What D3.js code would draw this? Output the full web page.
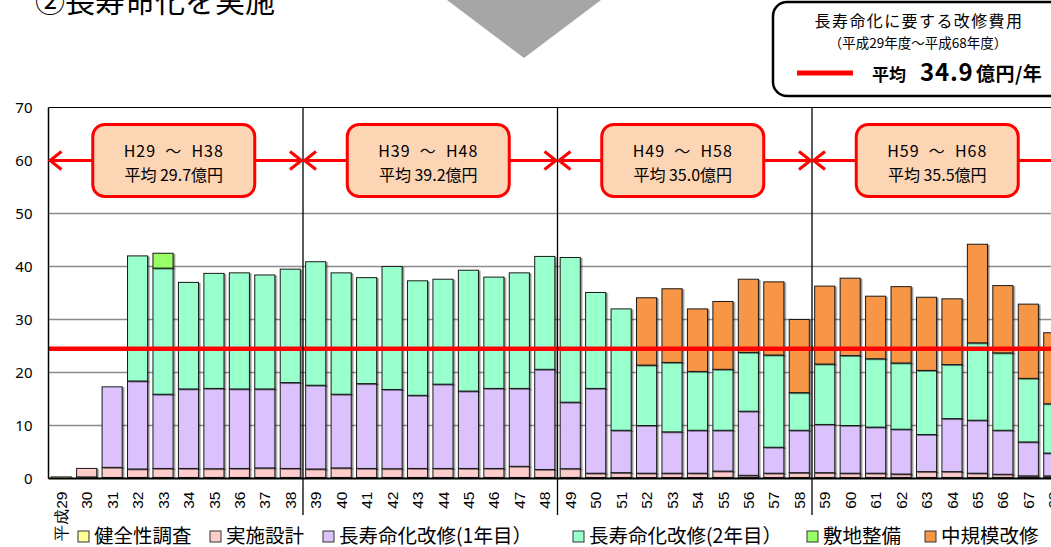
<!DOCTYPE html>
<html><head><meta charset="utf-8">
<script src="https://cdn.jsdelivr.net/npm/d3@7"></script>
<style>
html,body{margin:0;padding:0;background:#fff;overflow:hidden}
svg{display:block;font-family:"Noto Sans CJK JP","Noto Sans",sans-serif}
</style></head><body>
<svg id="c" width="1051" height="547"></svg>
<script>
// ---- data ----
const years = d3.range(29, 69);
const yearLabels = years.map(y => y === 29 ? "平成29" : String(y));
const seriesNames = ["健全性調査", "実施設計", "長寿命化改修(1年目）", "長寿命化改修(2年目）", "敷地整備", "中規模改修"];
const seriesColors = ["#ffff99", "#ffcccc", "#dcc2fd", "#99ffcc", "#99ff66", "#f79646"];
const kenzen = [0.3,0.3,0.2,0.2,0.2,0.2,0.2,0.2,0.2,0.2, 0.2,0.2,0.2,0.2,0.2,0.2,0.2,0.2,0.2,0.2, 0.2,0.2,0.2,0.2,0.2,0.2,0.2,0.2,0.2,0.2, 0.2,0.2,0.2,0.2,0.2,0.2,0.2,0.2,0.2,0.2];
const jisshi = [0,1.6,1.9,1.6,1.7,1.7,1.65,1.7,1.8,1.7, 1.6,1.8,1.7,1.65,1.7,1.7,1.7,1.7,2.1,1.5, 1.65,0.8,0.9,0.8,0.8,0.8,1.2,0.4,0.8,0.9, 0.9,0.8,0.8,0.65,1.1,1.1,0.8,0.6,0.3,0.3];
const kaishu1 = [0,0,15.2,16.6,14.0,15.0,15.15,15.0,14.9,16.2, 15.8,13.9,16.0,14.95,13.8,15.9,14.6,15.1,14.7,18.9, 12.55,16.0,8.0,9.0,7.8,8.1,7.7,12.1,4.9,8.0, 9.1,9.0,8.7,8.45,7.0,10.0,10.0,8.3,6.4,4.3];
const kaishu2 = [0,0,0,23.6,23.8,20.1,21.7,21.9,21.5,21.4, 23.3,22.9,20.0,23.2,21.6,19.8,22.8,21.0,21.8,21.3, 27.3,18.1,22.9,11.4,13.1,11.1,11.5,11.1,17.4,7.1, 11.4,13.2,12.9,12.5,12.1,10.2,14.6,14.6,12.0,9.3];
const shikichi = [0,0,0,0,2.8,0,0,0,0,0, 0,0,0,0,0,0,0,0,0,0, 0,0,0,0,0,0,0,0,0,0, 0,0,0,0,0,0,0,0,0,0];
const chukibo = [0,0,0,0,0,0,0,0,0,0, 0,0,0,0,0,0,0,0,0,0, 0,0,0,12.7,13.9,11.8,12.8,13.8,13.8,13.8, 14.7,14.6,11.8,14.4,13.8,12.4,18.6,12.7,14.0,13.4];
const yTicks = [0,10,20,30,40,50,60,70];
const averageLine = 24.5;
const periods = [
  {from: 29, to: 38, line1: "H29 ～ H38", line2: "平均 29.7億円"},
  {from: 39, to: 48, line1: "H39 ～ H48", line2: "平均 39.2億円"},
  {from: 49, to: 58, line1: "H49 ～ H58", line2: "平均 35.0億円"},
  {from: 59, to: 68, line1: "H59 ～ H68", line2: "平均 35.5億円"}
];
const periodMarkerValue = 60;
const titleText = "②長寿命化を実施";
const legendBoxLines = ["長寿命化に要する改修費用", "（平成29年度～平成68年度）"];

// ---- build ----
const svg = d3.select("#c");
const W = 1051, H = 547;
const x0 = 48.5, step = 25.45;
const x = d3.scaleBand().domain(yearLabels).range([x0, x0 + step * years.length]).paddingInner(0.21).paddingOuter(0.105);
const y = d3.scaleLinear().domain([0, 70]).range([478.5, 107.5]);

const defs = svg.append("defs");
const f = defs.append("filter").attr("id", "sh").attr("x", "-20%").attr("y", "-20%").attr("width", "140%").attr("height", "140%");
f.append("feDropShadow").attr("dx", 1.5).attr("dy", 1).attr("stdDeviation", 0.6).attr("flood-color", "#000").attr("flood-opacity", 0.45);

// title (cut off at top, as in the reference)
svg.append("text").attr("x", 35).attr("y", 12).attr("font-size", 30).attr("fill", "#000").text(titleText);

// gray down arrow
svg.append("path").attr("d", "M447,0 L601,0 L524,58 Z").attr("fill", "#a6a6a6");

// legend box top-right
const lg = svg.append("g");
lg.append("rect").attr("x", 773).attr("y", 2).attr("width", 320).attr("height", 94).attr("rx", 14)
  .attr("fill", "#fff").attr("stroke", "#000").attr("stroke-width", 2.5);
lg.append("text").attr("x", 919).attr("y", 27).attr("text-anchor", "middle").attr("font-size", 16).attr("letter-spacing", 1.4).text(legendBoxLines[0]);
lg.append("text").attr("x", 918).attr("y", 48).attr("text-anchor", "middle").attr("font-size", 13.5).text(legendBoxLines[1]);
lg.append("line").attr("x1", 797).attr("x2", 853).attr("y1", 73).attr("y2", 73).attr("stroke", "#ff0000").attr("stroke-width", 5);
const lt = lg.append("text").attr("y", 81).attr("font-weight", "bold");
lt.append("tspan").attr("x", 872).attr("font-size", 17).text("平均");
lt.append("tspan").attr("x", 920).attr("font-size", 24).attr("letter-spacing", 0.8).text(d3.format(".1f")(34.9));
lt.append("tspan").attr("x", 976).attr("font-size", 19).attr("letter-spacing", 0.5).text("億円/年");

// grid
const plot = svg.append("g");
plot.selectAll("line.grid").data(yTicks.filter(t => t > 0 && t < 70)).join("line")
  .attr("x1", x0).attr("x2", W).attr("y1", d => y(d)).attr("y2", d => y(d))
  .attr("stroke", "#8c8c8c").attr("stroke-width", 1.5);
plot.append("line").attr("x1", x0).attr("x2", W).attr("y1", y(70)).attr("y2", y(70)).attr("stroke", "#000").attr("stroke-width", 1.2);

// y axis labels
const ya = svg.append("g").attr("transform", `translate(${x0},0)`)
  .call(d3.axisLeft(y).tickValues(yTicks).tickSize(0).tickPadding(16));
ya.select(".domain").remove();
ya.selectAll("text").attr("font-size", 15).attr("font-family", "'Noto Sans',sans-serif").attr("fill", "#000");

// bars
const rows = years.map((yr, i) => ({
  label: yearLabels[i],
  s0: kenzen[i], s1: jisshi[i], s2: kaishu1[i], s3: kaishu2[i], s4: shikichi[i], s5: chukibo[i]
}));
const keys = ["s0","s1","s2","s3","s4","s5"];
const stack = d3.stack().keys(keys)(rows);
const bars = svg.append("g");
stack.forEach((layer, li) => {
  bars.append("g").attr("fill", seriesColors[li])
    .selectAll("rect").data(layer.filter(d => d[1] - d[0] > 0)).join("rect")
    .attr("x", d => x(d.data.label)).attr("width", x.bandwidth())
    .attr("y", d => y(d[1])).attr("height", d => y(d[0]) - y(d[1]))
    .attr("stroke", "#1a1a1a").attr("stroke-width", 1).attr("filter", "url(#sh)");
});

// average red line
svg.append("line").attr("x1", x0).attr("x2", W).attr("y1", y(averageLine)).attr("y2", y(averageLine))
  .attr("stroke", "#ff0000").attr("stroke-width", 4.5);

// axes lines
svg.append("line").attr("x1", x0).attr("x2", x0).attr("y1", y(70)).attr("y2", y(0)).attr("stroke", "#000").attr("stroke-width", 1.5);
svg.append("line").attr("x1", x0).attr("x2", W).attr("y1", y(0)).attr("y2", y(0)).attr("stroke", "#000").attr("stroke-width", 2);

// x axis labels
const xa = svg.append("g").attr("transform", `translate(0,${y(0)})`)
  .call(d3.axisBottom(x).tickSize(0));
xa.select(".domain").remove();
xa.selectAll("text").attr("font-size", 15.5).attr("fill", "#000")
  .attr("text-anchor", "end").attr("transform", "rotate(-90)")
  .attr("x", -13).attr("y", 0).attr("dy", "0.36em");

// period separators, arrows, boxes
const bx = i => x0 + i * 10 * x.step();
[1,2,3].forEach(i => {
  svg.append("line").attr("x1", bx(i)).attr("x2", bx(i)).attr("y1", y(70)).attr("y2", 515).attr("stroke", "#000").attr("stroke-width", 1.3);
});
const ym = y(periodMarkerValue);
periods.forEach((p, i) => {
  const a = bx(i), b = bx(i + 1), cx = (a + b) / 2 - 2;
  const g = svg.append("g");
  g.append("line").attr("x1", a + 1).attr("x2", b - 1).attr("y1", ym).attr("y2", ym).attr("stroke", "#ff0000").attr("stroke-width", 3);
  g.append("path").attr("d", `M${a + 13},${ym - 9} L${a + 1.5},${ym} L${a + 13},${ym + 9}`).attr("fill", "none").attr("stroke", "#ff0000").attr("stroke-width", 3);
  g.append("path").attr("d", `M${b - 13},${ym - 9} L${b - 1.5},${ym} L${b - 13},${ym + 9}`).attr("fill", "none").attr("stroke", "#ff0000").attr("stroke-width", 3);
  g.append("rect").attr("x", cx - 81).attr("y", ym - 36).attr("width", 162).attr("height", 72).attr("rx", 12)
    .attr("fill", "#fcd5b5").attr("stroke", "#ff0000").attr("stroke-width", 3);
  g.append("text").attr("x", cx).attr("y", ym - 4).attr("text-anchor", "middle").attr("font-size", 16).attr("letter-spacing", 1).attr("xml:space", "preserve").text(p.line1.replace(/ /g, "  "));
  g.append("text").attr("x", cx).attr("y", ym + 20).attr("text-anchor", "middle").attr("font-size", 16).attr("xml:space", "preserve").text(p.line2);
});

// bottom legend
const legendX = [78, 210, 323, 573, 807, 925];
const bl = svg.append("g");
seriesNames.forEach((n, i) => {
  const lx = legendX[i];
  bl.append("rect").attr("x", lx).attr("y", 531).attr("width", 11).attr("height", 11)
    .attr("fill", seriesColors[i]).attr("stroke", "#333").attr("stroke-width", 1);
  bl.append("text").attr("x", lx + 16).attr("y", 543).attr("font-size", 19.5).text(n);
});
</script>
</body></html>
